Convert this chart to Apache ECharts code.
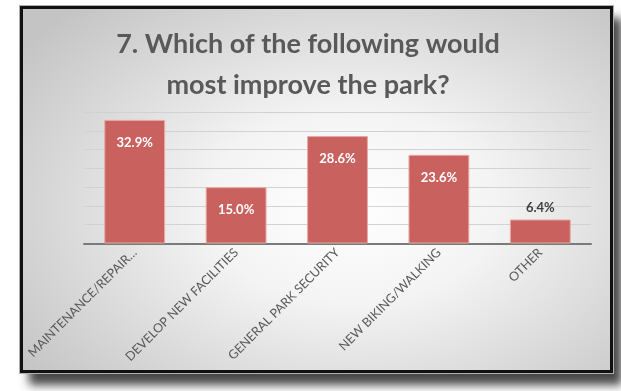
<!DOCTYPE html>
<html>
<head>
<meta charset="utf-8">
<script src="https://cdn.jsdelivr.net/npm/echarts@6/dist/echarts.min.js"></script>
<style>
  html, body { margin: 0; padding: 0; background: #ffffff; }
  body { width: 621px; height: 391px; position: relative; overflow: hidden; }
  #frame {
    position: absolute; left: 20px; top: 6px; width: 587px; height: 361px;
    border: 3px solid #111111;
    outline: 1px solid #b0b0b0;
    box-shadow: 9px 12px 9px rgba(40,40,40,0.85);
    background: radial-gradient(ellipse 70% 75% at 56% 55%, #ffffff 0%, #f4f4f4 35%, #d6d6d6 75%, #c4c4c4 100%);
  }
  #chart { position: absolute; left: 0; top: 0; width: 621px; height: 391px; }
</style>
</head>
<body>
<div id="frame"></div>
<div id="chart"></div>
<script>
// Survey question 7: share of responses per improvement option
const titleText = '7. Which of the following would\nmost improve the park?';
const categories = [
  'MAINTENANCE/REPAIR\u2026',
  'DEVELOP NEW FACILITIES',
  'GENERAL PARK SECURITY',
  'NEW BIKING/WALKING',
  'OTHER'
];
const percentValues = [32.9, 15.0, 28.6, 23.6, 6.4];
// values below this sit too low for an inside label, so their label goes above the bar
const insideLabelThreshold = 10;

const chart = echarts.init(document.getElementById('chart'), null, { renderer: 'canvas' });

const barData = percentValues.map(function (v) {
  const inside = v >= insideLabelThreshold;
  return {
    value: v,
    label: inside
      ? { position: 'insideTop', distance: 16, color: '#ffffff' }
      : { position: 'top', distance: 5, color: '#404040' }
  };
});

chart.setOption({
  backgroundColor: 'transparent',
  animation: false,
  title: {
    text: titleText,
    left: 308,
    top: 24,
    padding: 0,
    textAlign: 'center',
    textStyle: {
      fontFamily: 'Lato',
      fontWeight: 'bold',
      fontSize: 27,
      lineHeight: 41,
      color: '#595959'
    }
  },
  grid: { left: 84, right: 30, top: 112, bottom: 147.5, containLabel: false },
  xAxis: {
    type: 'category',
    data: categories,
    axisTick: { show: false },
    axisLine: { lineStyle: { color: '#7a7a7a', width: 2 } },
    axisLabel: {
      rotate: 45,
      interval: 0,
      margin: 7,
      fontFamily: 'Lato',
      fontSize: 12.5,
      color: '#595959'
    }
  },
  yAxis: {
    type: 'value',
    min: 0,
    max: 35,
    interval: 5,
    axisLabel: { show: false },
    axisLine: { show: false },
    axisTick: { show: false },
    splitLine: { lineStyle: { color: '#d2d2d2', width: 1 } }
  },
  series: [{
    type: 'bar',
    data: barData,
    barCategoryGap: '40%',
    itemStyle: { color: '#c9625f', borderColor: '#e7a9a7', borderWidth: 1 },
    label: {
      show: true,
      formatter: function (p) { return p.value.toFixed(1) + '%'; },
      fontFamily: 'Lato',
      fontWeight: 'bold',
      fontSize: 13
    }
  }]
});
</script>
</body>
</html>
